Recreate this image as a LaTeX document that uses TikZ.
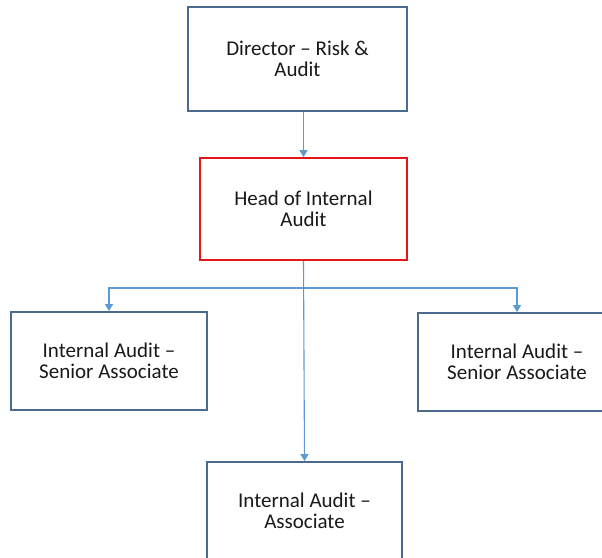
\documentclass[tikz,border=0pt]{standalone}
\usepackage{fontspec}
\setmainfont{Carlito}
\usetikzlibrary{arrows.meta}
\definecolor{boxblue}{HTML}{4A6B8F}
\definecolor{linkblue}{HTML}{5B9BD5}
\definecolor{headred}{HTML}{E3171B}
\tikzset{
  orgbox/.style={draw=boxblue, line width=1.8pt, fill=white, rectangle, align=center,
    font=\fontsize{21}{21}\selectfont, text=black!90, inner sep=0pt},
  link/.style={draw=linkblue, line width=1.1pt, -{Triangle[length=7pt,width=8pt]}},
}
\begin{document}
\begin{tikzpicture}[x=1pt,y=-1pt]
\useasboundingbox (0,0) rectangle (602,557);
\clip (0,0) rectangle (602,557);
\node[orgbox, minimum width=219pt, minimum height=104pt] (dir) at (297.5,59) {Director -- Risk \&\\Audit};
\node[orgbox, draw=headred, minimum width=207pt, minimum height=102pt] (head) at (303.5,209) {Head of Internal\\Audit};
\node[orgbox, minimum width=196pt, minimum height=98pt] (sa1) at (109,361) {Internal Audit --\\Senior Associate};
\node[orgbox, minimum width=198pt, minimum height=98pt] (sa2) at (517,362) {Internal Audit --\\Senior Associate};
\node[orgbox, minimum width=195pt, minimum height=98pt] (assoc) at (304.5,511) {Internal Audit --\\Associate};
\coordinate (split) at (head.south |- 0,288);
\draw[link] (dir.south -| head.south) -- (head.north);
\draw[link] (head.south) -- (assoc.north);
\draw[link] (split) -| (sa1.north);
\draw[link] (split) -| (sa2.north);
\end{tikzpicture}
\end{document}
